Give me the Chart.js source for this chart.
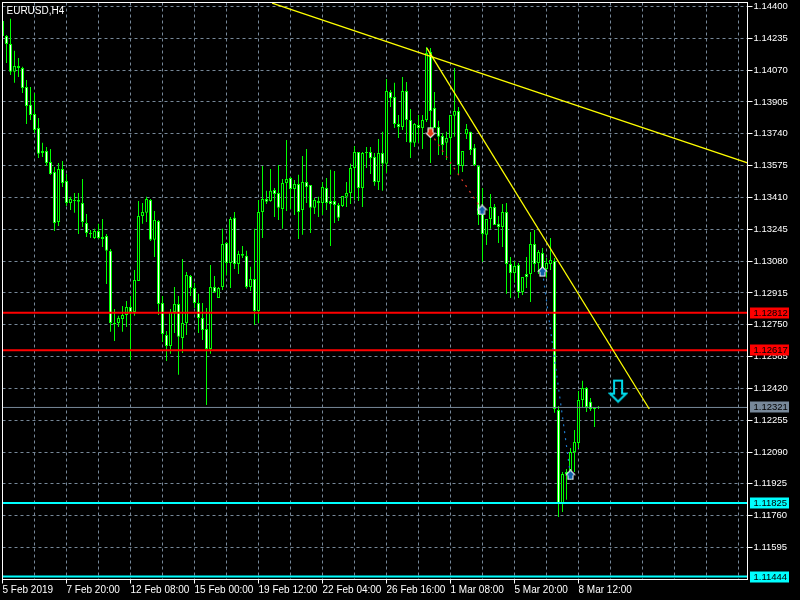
<!DOCTYPE html>
<html>
<head>
<meta charset="utf-8">
<title>EURUSD,H4</title>
<style>html,body{margin:0;padding:0;background:#000}canvas{display:block}</style>
<script src="https://cdn.jsdelivr.net/npm/chart.js@4/dist/chart.umd.js"></script>
</head>
<body>
<canvas id="c" width="800" height="600"></canvas>
<script>
const chartTitle = 'EURUSD,H4';
const opens = [1.14325,1.14247,1.14206,1.14061,1.14092,1.14081,1.13983,1.13890,1.13843,1.13770,
1.13651,1.13651,1.13594,1.13542,1.13283,1.13558,1.13495,1.13381,1.13397,1.13397,
1.13381,1.13278,1.13226,1.13200,1.13236,1.13205,1.13210,1.13133,1.12759,1.12759,
1.12780,1.12801,1.12842,1.12816,1.12977,1.13314,1.13330,1.13397,1.13190,1.13288,
1.12863,1.12697,1.12640,1.12816,1.12858,1.12681,1.12759,1.13003,1.12941,1.12863,
1.12785,1.12728,1.12624,1.12946,1.12889,1.12946,1.13174,1.13070,1.13304,1.13065,
1.13117,1.13107,1.12946,1.12987,1.12821,1.13335,1.13402,1.13392,1.13449,1.13433,
1.13350,1.13485,1.13511,1.13454,1.13480,1.13345,1.13490,1.13475,1.13356,1.13392,
1.13381,1.13459,1.13392,1.13392,1.13371,1.13366,1.13413,1.13433,1.13563,1.13646,
1.13459,1.13646,1.13646,1.13620,1.13490,1.13641,1.13584,1.13957,1.13931,1.13791,
1.13775,1.13962,1.13812,1.13693,1.13786,1.13770,1.13812,1.14164,1.13874,1.13775,
1.13729,1.13693,1.13718,1.13833,1.13858,1.13573,1.13739,1.13750,1.13667,1.13573,
1.13324,1.13216,1.13298,1.13361,1.13273,1.13257,1.13335,1.13065,1.13018,1.13060,
1.12920,1.13013,1.13013,1.13169,1.13070,1.13122,1.13039,1.13065,1.13081,1.12308,
1.11826,1.11987,1.11961,1.12090,1.12137,1.12360,1.12422,1.12350,1.12313,1.12318];
const highs = [1.14325,1.14252,1.14336,1.14170,1.14133,1.14087,1.14019,1.13983,1.13952,1.13822,
1.13693,1.13672,1.13661,1.13568,1.13589,1.13599,1.13532,1.13413,1.13433,1.13433,
1.13506,1.13324,1.13241,1.13247,1.13273,1.13298,1.13221,1.13143,1.12832,1.12796,
1.12847,1.12873,1.12899,1.13034,1.13392,1.13381,1.13413,1.13402,1.13340,1.13293,
1.12899,1.12718,1.12832,1.12946,1.12899,1.13091,1.13024,1.13008,1.12967,1.12910,
1.12863,1.12837,1.13060,1.13003,1.12946,1.13247,1.13179,1.13309,1.13335,1.13133,
1.13158,1.13133,1.13050,1.13247,1.13397,1.13573,1.13444,1.13558,1.13459,1.13578,
1.13506,1.13708,1.13516,1.13501,1.13527,1.13625,1.13661,1.13475,1.13407,1.13413,
1.13490,1.13511,1.13553,1.13547,1.13381,1.13418,1.13490,1.13584,1.13677,1.13646,
1.13646,1.13672,1.13672,1.13641,1.13713,1.13750,1.14024,1.13967,1.14004,1.13838,
1.14035,1.14009,1.13869,1.13796,1.13838,1.13838,1.14190,1.14185,1.13957,1.13807,
1.13744,1.13750,1.13838,1.14081,1.13879,1.13651,1.13791,1.13750,1.13687,1.13578,
1.13459,1.13298,1.13428,1.13376,1.13314,1.13376,1.13381,1.13101,1.13081,1.13070,
1.12998,1.13101,1.13231,1.13241,1.13138,1.13148,1.13096,1.13200,1.13096,1.12329,
1.11987,1.12002,1.12111,1.12204,1.12407,1.12459,1.12427,1.12370,1.12324,1.12329];
const lows = [1.14242,1.14107,1.14045,1.14004,1.14035,1.13952,1.13791,1.13812,1.13744,1.13615,
1.13620,1.13573,1.13527,1.13236,1.13262,1.13464,1.13366,1.13345,1.13330,1.13221,
1.13257,1.13205,1.13200,1.13195,1.13195,1.13153,1.12961,1.12713,1.12666,1.12738,
1.12713,1.12738,1.12567,1.12796,1.12977,1.13273,1.13283,1.13184,1.13101,1.12801,
1.12661,1.12562,1.12599,1.12707,1.12490,1.12604,1.12697,1.12899,1.12837,1.12707,
1.12671,1.12334,1.12599,1.12915,1.12889,1.12930,1.13008,1.12941,1.13039,1.13013,
1.13096,1.12936,1.12925,1.12749,1.12759,1.13200,1.13376,1.13387,1.13309,1.13293,
1.13247,1.13340,1.13350,1.13319,1.13195,1.13216,1.13381,1.13226,1.13324,1.13309,
1.13319,1.13345,1.13158,1.13278,1.13288,1.13361,1.13361,1.13376,1.13397,1.13392,
1.13361,1.13563,1.13532,1.13470,1.13449,1.13444,1.13537,1.13879,1.13770,1.13718,
1.13760,1.13698,1.13615,1.13672,1.13693,1.13661,1.13801,1.13589,1.13770,1.13630,
1.13630,1.13604,1.13527,1.13724,1.13527,1.13542,1.13713,1.13630,1.13573,1.13267,
1.13076,1.13164,1.13247,1.13267,1.13174,1.13153,1.12910,1.12889,1.12967,1.12889,
1.12904,1.12941,1.12868,1.13024,1.13013,1.13008,1.12993,1.13034,1.12293,1.11753,
1.11779,1.11842,1.11945,1.11987,1.12111,1.12324,1.12298,1.12303,1.12220,1.12313];
const closes = [1.14247,1.14206,1.14061,1.14092,1.14081,1.13978,1.13884,1.13838,1.13760,1.13636,
1.13641,1.13589,1.13532,1.13278,1.13558,1.13485,1.13381,1.13402,1.13392,1.13387,
1.13283,1.13226,1.13221,1.13236,1.13200,1.13195,1.13133,1.12759,1.12754,1.12785,
1.12801,1.12842,1.12816,1.12982,1.13314,1.13335,1.13402,1.13190,1.13293,1.12858,
1.12702,1.12640,1.12816,1.12858,1.12687,1.12759,1.13008,1.12941,1.12863,1.12785,
1.12723,1.12624,1.12946,1.12920,1.12941,1.13169,1.13070,1.13298,1.13065,1.13117,
1.13107,1.12946,1.12987,1.12821,1.13335,1.13402,1.13387,1.13444,1.13428,1.13356,
1.13485,1.13506,1.13454,1.13480,1.13335,1.13490,1.13464,1.13356,1.13397,1.13381,
1.13464,1.13381,1.13376,1.13371,1.13304,1.13418,1.13433,1.13563,1.13646,1.13459,
1.13641,1.13641,1.13615,1.13490,1.13641,1.13584,1.13962,1.13926,1.13791,1.13775,
1.13962,1.13812,1.13693,1.13791,1.13770,1.13812,1.14159,1.13858,1.13770,1.13724,
1.13682,1.13718,1.13838,1.13858,1.13578,1.13651,1.13765,1.13656,1.13578,1.13319,
1.13221,1.13298,1.13361,1.13267,1.13257,1.13335,1.13065,1.13018,1.13055,1.12920,
1.12998,1.12998,1.13169,1.13065,1.13127,1.13039,1.13070,1.13086,1.12313,1.11826,
1.11976,1.11976,1.12090,1.12142,1.12360,1.12422,1.12324,1.12313,1.12318,1.12321];

const yTickValues = [1.14400,1.14235,1.14070,1.13905,1.13740,1.13575,1.13410,1.13245,1.13080,1.12915,1.12750,1.12585,1.12420,1.12255,1.12090,1.11925,1.11760,1.11595];
const xTickLabels = ['5 Feb 2019','7 Feb 20:00','12 Feb 08:00','15 Feb 00:00','19 Feb 12:00','22 Feb 04:00','26 Feb 16:00','1 Mar 08:00','5 Mar 20:00','8 Mar 12:00'];
const xGridPositions = [0,8,16,24,32,40,48,56,64,72,80,88,96,104,112,120,128,136,144,152,160,168,176,184];
const xLabelPositions = [0,16,32,48,64,80,96,112,128,144];

const levelValues = [1.12812,1.12617,1.11825,1.11444,1.12321];
const levelColors = ['#ff0000','#ff0000','#00ffff','#00ffff','#778899'];
const levelWidths = [2,2,2,2,1];

const trendX1 = [67.4,186.25];
const trendY1 = [1.14418,1.13589];
const trendX2 = [106.05,161.7];
const trendY2 = [1.14185,1.12313];

const redTradeX = [107,119.9];
const redTradeY = [1.13745,1.13345];
const blueTradeX = [135,142];
const blueTradeY = [1.13025,1.11971];

const sellMarkX = [107];
const sellMarkY = [1.13745];
const buyMarkX = [119.9,135,142];
const buyMarkY = [1.13345,1.13025,1.11971];
const bigArrowX = [153.9];
const bigArrowY = [1.12406];

const XMIN = 0, XMAX = 186.25, YMAX = 1.144207, YMIN = 1.11429;
const FONT_FAMILY = '"Liberation Sans", Arial, sans-serif';
const FONT = {family:FONT_FAMILY, size:9.5};
const FONT_X = {family:FONT_FAMILY, size:10};

function smallArrow(fill, down){
  const c = document.createElement('canvas'); c.width = 11; c.height = 11;
  const g = c.getContext('2d');
  if(down){ g.translate(0,11); g.scale(1,-1); }
  g.fillStyle = '#ffffff';
  g.beginPath();
  [[5.5,0],[11,5.5],[8.5,5.5],[8.5,10.5],[2.5,10.5],[2.5,5.5],[0,5.5]].forEach((p,i)=> i? g.lineTo(p[0],p[1]) : g.moveTo(p[0],p[1]));
  g.closePath(); g.fill();
  g.fillStyle = fill;
  g.beginPath();
  [[5.5,1.5],[9,5],[7.5,6],[7.5,9.5],[3.5,9.5],[3.5,6],[2,5]].forEach((p,i)=> i? g.lineTo(p[0],p[1]) : g.moveTo(p[0],p[1]));
  g.closePath(); g.fill();
  return c;
}
function bigArrow(){
  const c = document.createElement('canvas'); c.width = 20; c.height = 25;
  const g = c.getContext('2d');
  g.strokeStyle = '#00d8e8'; g.lineWidth = 2; g.lineJoin = 'miter';
  g.beginPath();
  [[6,2],[14,2],[14,15],[18,15],[10,23],[2,15],[6,15]].forEach((p,i)=> i? g.lineTo(p[0],p[1]) : g.moveTo(p[0],p[1]));
  g.closePath(); g.stroke();
  return c;
}
const zip = (xs,ys)=> xs.map((x,i)=>({x, y:ys[i]}));
const idx = opens.map((_,i)=>i);
const lineBase = {type:'line', pointRadius:0, fill:false, tension:0};

const datasets = [
  {type:'bar', order:30, grouped:false, barThickness:1, backgroundColor:'#00ff00', borderWidth:0, inflateAmount:0,
   data: idx.map(i=>({x:i, y:[lows[i],highs[i]]}))},
  {type:'bar', order:20, grouped:false, barThickness:3, backgroundColor:'#000000', borderColor:'#00ff00', borderWidth:1, borderSkipped:false, inflateAmount:0,
   data: idx.filter(i=>closes[i]>=opens[i]).map(i=>({x:i, y:[opens[i],closes[i]]}))},
  {type:'bar', order:20, grouped:false, barThickness:3, backgroundColor:'#ffffff', borderColor:'#00ff00', borderWidth:1, borderSkipped:false, inflateAmount:0,
   data: idx.filter(i=>closes[i]<opens[i]).map(i=>({x:i, y:[closes[i],opens[i]]}))},
  Object.assign({}, lineBase, {order:15, borderColor:'#e03828', borderWidth:1.2, borderDash:[2,5], data:zip(redTradeX,redTradeY)}),
  Object.assign({}, lineBase, {order:15, borderColor:'#1e78c8', borderWidth:1.2, borderDash:[2,5], data:zip(blueTradeX,blueTradeY)}),
  Object.assign({}, lineBase, {order:10, borderColor:'#ffff00', borderWidth:1.3, data:zip(trendX1,trendY1)}),
  Object.assign({}, lineBase, {order:10, borderColor:'#ffff00', borderWidth:1.3, data:zip(trendX2,trendY2)})
];
levelValues.forEach((v,k)=>{
  datasets.push(Object.assign({}, lineBase, {order:12, borderColor:levelColors[k], borderWidth:levelWidths[k], data:[{x:XMIN,y:v},{x:XMAX,y:v}]}));
});
datasets.push({type:'line', order:1, showLine:false, pointStyle:smallArrow('#e03c14',true), data:zip(sellMarkX,sellMarkY)});
datasets.push({type:'line', order:1, showLine:false, pointStyle:smallArrow('#0f5fa8',false), data:zip(buyMarkX,buyMarkY)});
datasets.push({type:'line', order:1, showLine:false, pointStyle:bigArrow(), data:zip(bigArrowX,bigArrowY)});

const mtPlugin = {
  id:'mtDecor',
  beforeDraw(chart){
    const g = chart.ctx; g.save(); g.fillStyle='#000'; g.fillRect(0,0,chart.width,chart.height); g.restore();
  },
  afterDatasetsDraw(chart){
    const g = chart.ctx, a = chart.chartArea;
    g.save();
    g.strokeStyle='#ffffff'; g.lineWidth=1;
    g.strokeRect(a.left,a.top,a.right-a.left,a.bottom-a.top);
    g.font = '10px '+FONT_FAMILY;
    g.fillStyle='#ffffff'; g.textAlign='left'; g.textBaseline='alphabetic';
    g.fillText(chartTitle, 6.5, 13.5);
    g.restore();
  },
  afterDraw(chart){
    const g = chart.ctx, y = chart.scales.y;
    g.save();
    g.font = FONT.size+'px '+FONT.family;
    g.textAlign='left'; g.textBaseline='middle';
    levelValues.forEach((v,k)=>{
      const p = Math.round(y.getPixelForValue(v));
      g.fillStyle = levelColors[k];
      g.fillRect(750,p-5.5,39,11);
      g.fillStyle = '#000000';
      g.fillText(v.toFixed(5),753.5,p+0.5);
    });
    g.restore();
  }
};

new Chart(document.getElementById('c'), {
  type:'bar',
  data:{datasets},
  plugins:[mtPlugin],
  options:{
    responsive:false, animation:false, devicePixelRatio:1,
    layout:{autoPadding:false, padding:{left:2.5,top:2.5,right:0,bottom:0}},
    plugins:{legend:{display:false}, tooltip:{enabled:false}, title:{display:false}},
    events:[],
    scales:{
      x:{
        type:'linear', position:'bottom', offset:false, min:XMIN, max:XMAX,
        afterBuildTicks(s){ s.ticks = xGridPositions.map(v=>({value:v})); },
        afterFit(s){ s.height=20.5; s.paddingLeft=0; s.paddingRight=0; },
        grid:{offset:false, color:'#778899', tickColor:(c)=> xLabelPositions.includes(c.tick && c.tick.value) ? '#ffffff':'rgba(0,0,0,0)', tickLength:4, lineWidth:1},
        border:{color:'#ffffff', width:1, dash:[3,3]},
        ticks:{color:'#ffffff', font:FONT_X, autoSkip:false, maxRotation:0, minRotation:0, align:'start', padding:1,
          callback:(v)=>{ const k = xLabelPositions.indexOf(v); return k>=0 ? xTickLabels[k] : ''; }}
      },
      y:{
        type:'linear', position:'right', min:YMIN, max:YMAX,
        afterBuildTicks(s){ s.ticks = yTickValues.map(v=>({value:v})); },
        afterFit(s){ s.width=52.5; s.paddingTop=0; s.paddingBottom=0; },
        grid:{color:'#778899', tickColor:'#ffffff', tickLength:5, lineWidth:1},
        border:{color:'#ffffff', width:1, dash:[3,3]},
        ticks:{color:'#ffffff', font:FONT, autoSkip:false, padding:1, callback:(v)=>v.toFixed(5)}
      }
    }
  }
});
</script>
</body>
</html>
